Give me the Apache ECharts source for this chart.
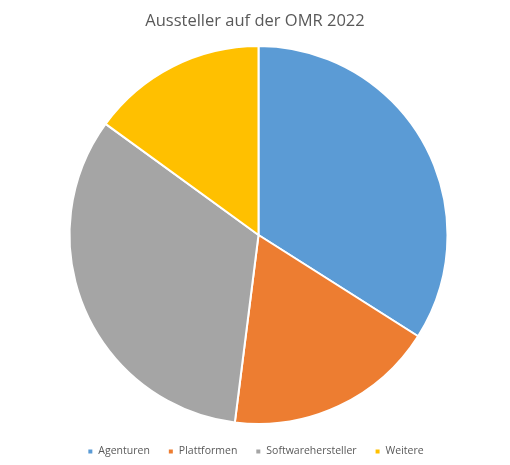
<!DOCTYPE html>
<html><head><meta charset="utf-8">
<script src="https://cdn.jsdelivr.net/npm/echarts@6/dist/echarts.min.js"></script>
<style>html,body{margin:0;padding:0;background:#fff}#c{width:510px;height:465px}</style>
</head><body><div id="c"></div>
<script>
const categories = ["Agenturen", "Plattformen", "Softwarehersteller", "Weitere"];
const values = [34, 18, 33, 15];
const colors = ["#5B9BD5", "#ED7D31", "#A5A5A5", "#FFC000"];

const chart = echarts.init(document.getElementById('c'), null, {renderer: 'canvas'});
chart.setOption({
  animation: false,
  title: {
    text: "Aussteller auf der OMR 2022",
    left: 'center', top: 8,
    textStyle: {fontFamily: 'Open Sans', fontSize: 16.5, fontWeight: 'normal', color: '#595959'}
  },
  legend: {
    bottom: 3, left: 'center',
    icon: 'rect', itemWidth: 6, itemHeight: 6, itemGap: 17,
    textStyle: {fontFamily: 'Open Sans', fontSize: 10.5, color: '#595959'},
    data: categories
  },
  series: [{
    type: 'pie',
    center: [258.5, 235],
    radius: [0, 189],
    startAngle: 90,
    clockwise: true,
    label: {show: false},
    labelLine: {show: false},
    itemStyle: {borderColor: '#fff', borderWidth: 2},
    emphasis: {disabled: true},
    data: categories.map((c, i) => ({name: c, value: values[i], itemStyle: {color: colors[i]}}))
  }]
});
</script></body></html>
